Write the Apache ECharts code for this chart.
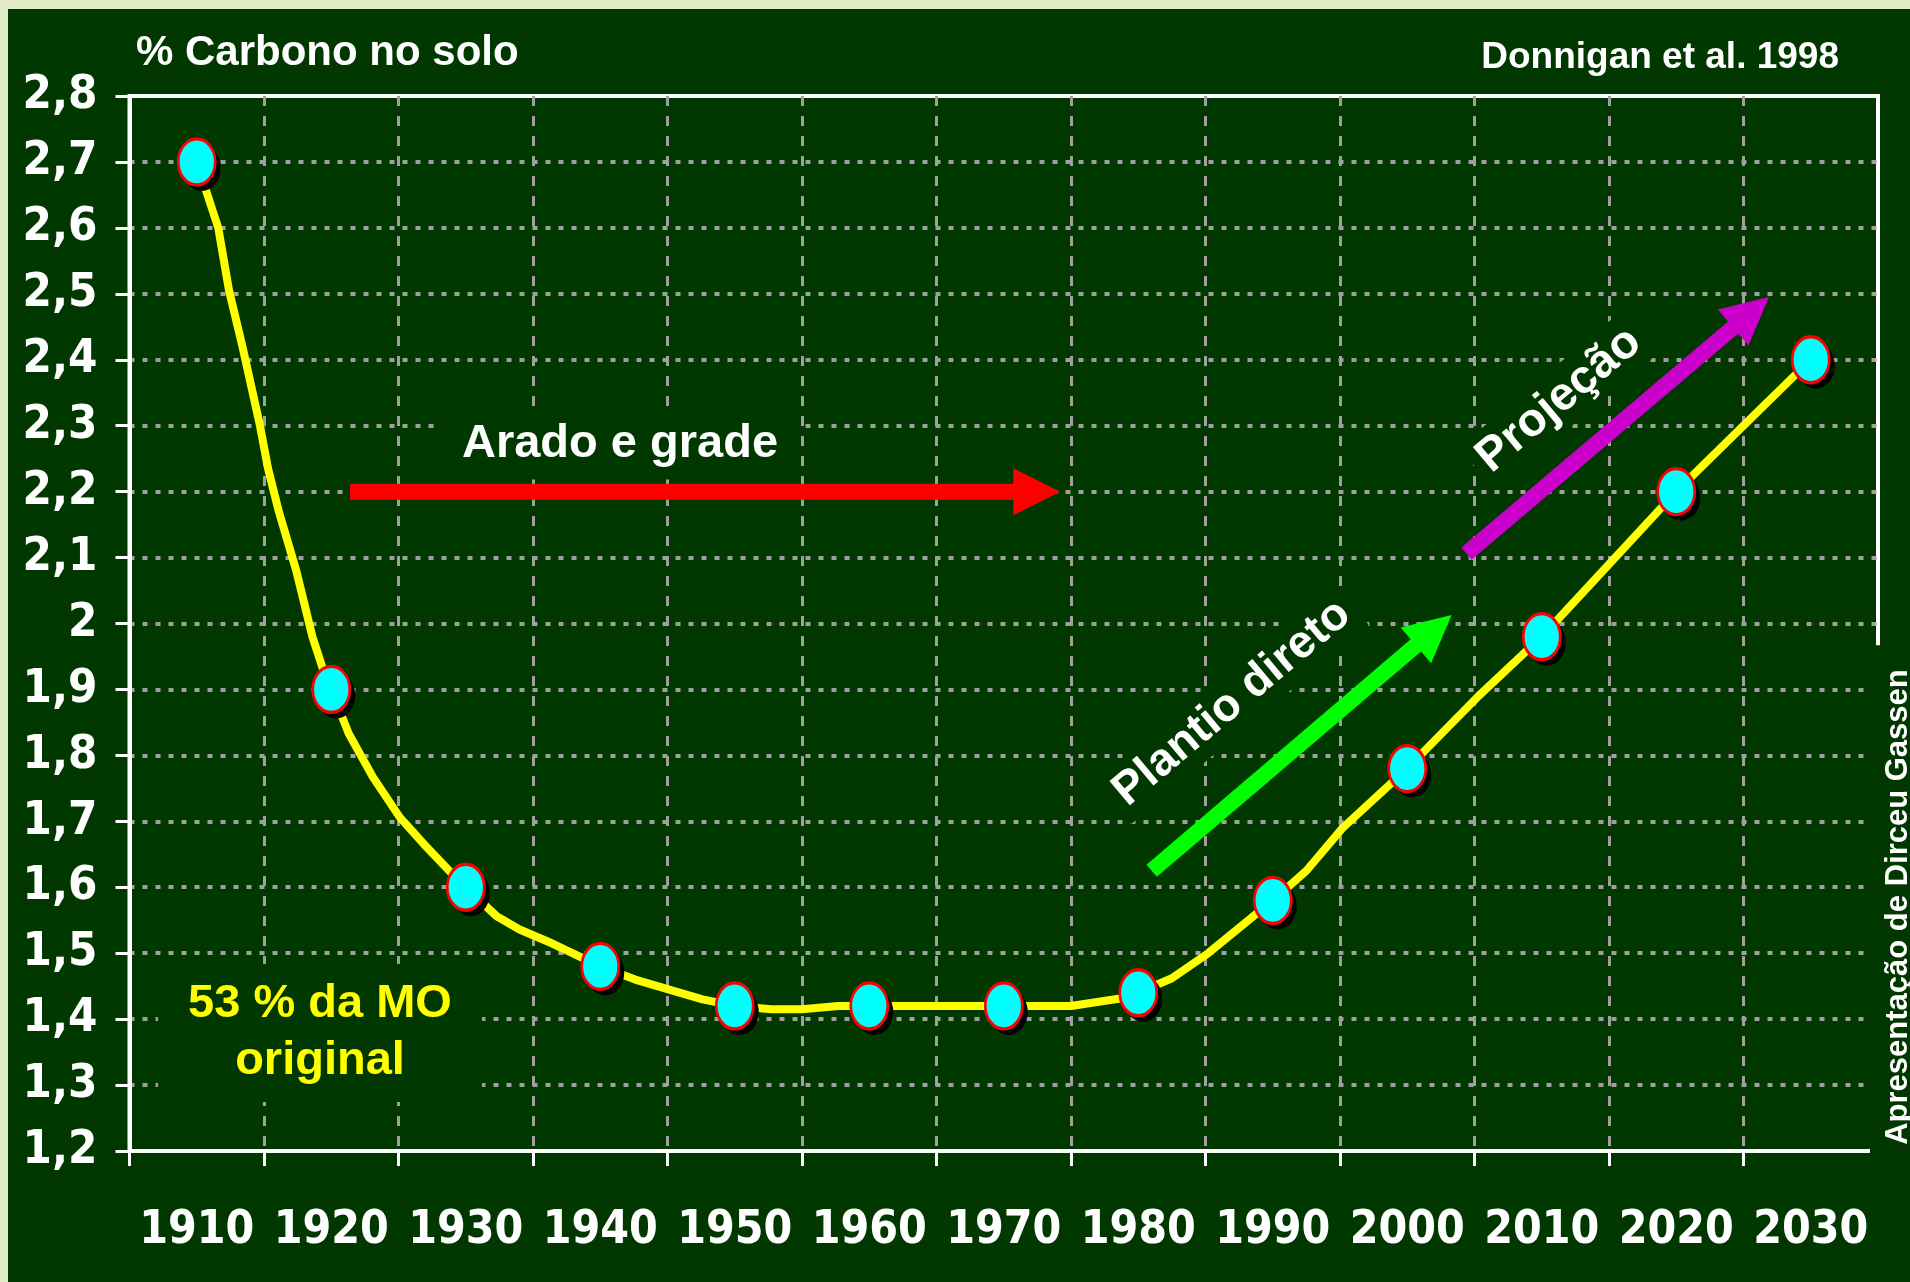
<!DOCTYPE html>
<html><head><meta charset="utf-8">
<script src="https://cdn.jsdelivr.net/npm/echarts@6/dist/echarts.min.js"></script>
<style>
html,body{margin:0;padding:0;background:#e3ebc8;width:1910px;height:1282px;overflow:hidden}
#c{position:absolute;left:8px;top:9px;width:1902px;height:1273px}
</style></head>
<body><div id="c"></div>
<script>
// ---- data ----
const categories = ['1910','1920','1930','1940','1950','1960','1970','1980','1990','2000','2010','2020','2030'];
const markerValues = [2.7, 1.9, 1.6, 1.48, 1.42, 1.42, 1.42, 1.44, 1.58, 1.78, 1.98, 2.2, 2.4];
const curveYears = [1910,1911.6,1912.4,1913.4,1914.7,1915.3,1916.1,1917.4,1918.6,1919.4,1920,1921.3,1923.1,1925.1,1927,1929,1930,1932.3,1934,1936.4,1940,1942.6,1947.6,1950,1952.7,1955,1957.7,1975,1978.9,1980,1982.5,1985.2,1988.5,1990,1992.5,1995.2,2000,2005.3,2010,2015,2020,2025,2030];
const curveValues = [2.70,2.60,2.505,2.42,2.30,2.235,2.17,2.08,1.98,1.93,1.90,1.833,1.767,1.706,1.663,1.62,1.60,1.556,1.536,1.515,1.48,1.46,1.43,1.42,1.415,1.415,1.42,1.42,1.432,1.44,1.462,1.50,1.555,1.58,1.625,1.69,1.78,1.89,1.98,2.09,2.20,2.30,2.40];
const yMin = 1.2, yMax = 2.8, yStep = 0.1;
const yearMin = 1905, yearMax = 2035;

const titleText = '% Carbono no solo';
const sourceText = 'Donnigan et al. 1998';
const creditText = 'Apresentação de Dirceu Gassen';
const arrowFrom = [[1921.4, 2.2], [1981.0, 1.625], [2004.4, 2.106]];
const arrowTo   = [[1974.2, 2.2], [2003.3, 2.013], [2026.9, 2.495]];
const arrowColors = ['#ff0000', '#00ff00', '#cc00cc'];

// ---- styles ----
const BG = '#003800';
const GRID_GRAY = '#a0a0a0';
const NARROW = '"DejaVu Sans Condensed", "DejaVu Sans", sans-serif';
const SANS = '"Liberation Sans", Arial, sans-serif';

const chart = echarts.init(document.getElementById('c'));
const fmt = v => String(Math.round(v * 10) / 10).replace('.', ',');
const markerData = markerValues.map((v, i) => [categories[i], v]);

chart.setOption({
  backgroundColor: BG,
  animation: false,
  grid: {left: 121.5, top: 87, right: 32, bottom: 131, show: true, borderColor: '#ffffff', borderWidth: 4, backgroundColor: 'transparent'},
  xAxis: [
    {type: 'category', data: categories, boundaryGap: true, position: 'bottom',
     axisLine: {lineStyle: {color: '#ffffff', width: 4}},
     axisTick: {show: true, interval: 0, length: 15, lineStyle: {color: '#ffffff', width: 3}},
     axisLabel: {color: '#ffffff', fontFamily: NARROW, fontWeight: 'bold', fontSize: 46, lineHeight: 46, margin: 57, interval: 0},
     splitLine: {show: true, interval: 0, showMinLine: false, showMaxLine: false, lineStyle: {color: GRID_GRAY, width: 3, type: [10, 10]}}},
    {type: 'value', min: yearMin, max: yearMax, show: false, position: 'top'}
  ],
  yAxis: {type: 'value', min: yMin, max: yMax, interval: yStep,
    axisLine: {show: true, lineStyle: {color: '#ffffff', width: 4}},
    axisTick: {show: true, length: 14, lineStyle: {color: '#ffffff', width: 3}},
    axisLabel: {color: '#ffffff', fontFamily: NARROW, fontWeight: 'bold', fontSize: 47, margin: 32, formatter: fmt},
    splitLine: {show: true, showMinLine: false, showMaxLine: false, lineStyle: {color: GRID_GRAY, width: 4, type: [5, 8]}}},
  series: [
    {type: 'line', xAxisIndex: 1, yAxisIndex: 0, data: curveYears.map((y, i) => [y, curveValues[i]]),
     showSymbol: false, symbol: 'none', lineStyle: {color: '#ffff00', width: 8}, z: 3},
    {type: 'scatter', xAxisIndex: 0, yAxisIndex: 0, data: markerData, silent: true,
     symbol: 'circle', symbolSize: [38, 46], symbolOffset: [5, 6],
     itemStyle: {color: '#000000', opacity: 1}, z: 4},
    {type: 'scatter', xAxisIndex: 0, yAxisIndex: 0, data: markerData,
     symbol: 'circle', symbolSize: [37, 46],
     itemStyle: {color: '#00ffff', borderColor: '#ff0000', borderWidth: 3, opacity: 1}, z: 5}
  ]
});

function arrowPoly(p0, p1, w, L, H) {
  const dx = p1[0] - p0[0], dy = p1[1] - p0[1];
  const len = Math.hypot(dx, dy);
  const ux = dx / len, uy = dy / len, nx = -uy, ny = ux;
  const bx = p1[0] - ux * L, by = p1[1] - uy * L;
  return [
    [p0[0] + nx * w / 2, p0[1] + ny * w / 2],
    [bx + nx * w / 2, by + ny * w / 2],
    [bx + nx * H / 2, by + ny * H / 2],
    [p1[0], p1[1]],
    [bx - nx * H / 2, by - ny * H / 2],
    [bx - nx * w / 2, by - ny * w / 2],
    [p0[0] - nx * w / 2, p0[1] - ny * w / 2]
  ];
}
const toPx = p => chart.convertToPixel({seriesIndex: 0}, p);
const graphics = [];
arrowFrom.forEach((f, i) => {
  graphics.push({type: 'polygon', z: 20, shape: {points: arrowPoly(toPx(f), toPx(arrowTo[i]), 16, 47, 47)},
                 style: {fill: arrowColors[i]}});
});
const ang = 40 * Math.PI / 180;
graphics.push(
  {type: 'text', x: 128, y: 44, z: 30, style: {text: titleText, fill: '#ffffff', fontFamily: SANS, fontWeight: 'bold', fontSize: 42, align: 'left', verticalAlign: 'middle'}},
  {type: 'text', x: 1831, y: 48.5, z: 30, style: {text: sourceText, fill: '#ffffff', fontFamily: SANS, fontWeight: 'bold', fontSize: 37, align: 'right', verticalAlign: 'middle'}},
  {type: 'text', x: 612, y: 435, z: 15, style: {text: 'Arado e grade', fill: '#ffffff', fontFamily: SANS, fontWeight: 'bold', fontSize: 47, lineHeight: 47, align: 'center', verticalAlign: 'middle', backgroundColor: BG, padding: [12, 23]}},
  {type: 'text', x: 312, y: 1024, z: 15, style: {text: '53 % da MO\noriginal', fill: '#ffff00', fontFamily: SANS, fontWeight: 'bold', fontSize: 47, lineHeight: 57, align: 'center', verticalAlign: 'middle', backgroundColor: BG, padding: [12, 30]}},
  {type: 'text', x: 1224, y: 694, rotation: ang, z: 15, style: {text: 'Plantio direto', fill: '#ffffff', fontFamily: SANS, fontWeight: 'bold', fontSize: 46, lineHeight: 48, align: 'center', verticalAlign: 'middle', backgroundColor: BG, padding: [4, 8]}},
  {type: 'text', x: 1551, y: 391, rotation: ang, z: 15, style: {text: 'Projeção', fill: '#ffffff', fontFamily: SANS, fontWeight: 'bold', fontSize: 47, lineHeight: 48, align: 'center', verticalAlign: 'middle', backgroundColor: BG, padding: [4, 8]}},
  {type: 'text', x: 1890, y: 898, rotation: Math.PI / 2, z: 100, style: {text: creditText, fill: '#ffffff', fontFamily: SANS, fontWeight: 'bold', fontSize: 31, lineHeight: 36, align: 'center', verticalAlign: 'middle', backgroundColor: BG, padding: [10, 24]}}
);
chart.setOption({graphic: graphics});
</script>
</body></html>
